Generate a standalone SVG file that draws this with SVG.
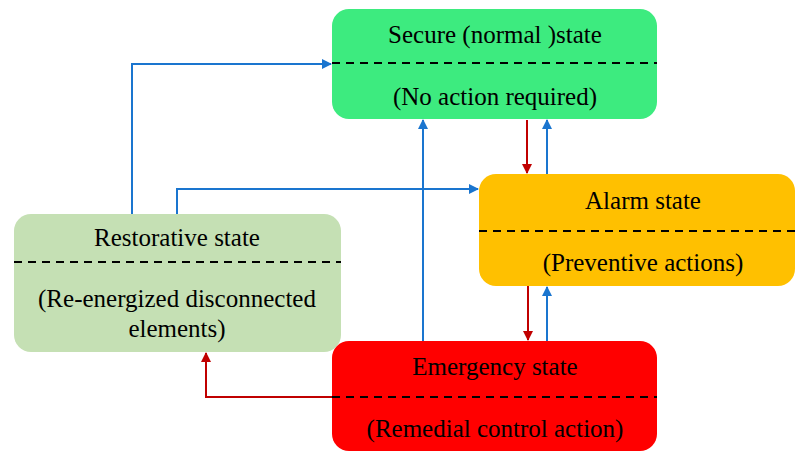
<svg xmlns="http://www.w3.org/2000/svg" width="796" height="451" viewBox="0 0 796 451">
<defs>
<marker id="ab" viewBox="0 0 10 10" refX="9" refY="5" markerWidth="5" markerHeight="5" orient="auto"><path d="M0,0 L10,5 L0,10 z" fill="#1A75CF"/></marker>
<marker id="ar" viewBox="0 0 10 10" refX="9" refY="5" markerWidth="5" markerHeight="5" orient="auto"><path d="M0,0 L10,5 L0,10 z" fill="#C00000"/></marker>
</defs>
<style>
text{font-family:'Liberation Serif','Times New Roman','DejaVu Serif',serif;font-size:25px;fill:#000;text-anchor:middle}
.d{stroke:#000;stroke-width:2;stroke-dasharray:8,6;fill:none}
.b{stroke:#1A75CF;stroke-width:2;fill:none;marker-end:url(#ab)}
.r{stroke:#C00000;stroke-width:2;fill:none;marker-end:url(#ar)}
</style>
<rect width="796" height="451" fill="#fff"/>
<g id="connectors">
<path class="b" d="M132,214 V64 H331"/>
<path class="b" d="M177,214 V189 H478"/>
<path class="b" d="M423,341 V120"/>
<path class="r" d="M527,120 V173"/>
<path class="b" d="M547,174 V120"/>
<path class="r" d="M528,286 V340"/>
<path class="b" d="M547,341 V287"/>
<path class="r" d="M332,397 H206 V353"/>
</g>
<g font-family="Liberation Serif, serif" font-size="25" text-anchor="middle">
<g id="secure">
<rect x="332" y="9" width="325" height="110" rx="17" fill="#3DEB7F"/>
<line class="d" x1="332" y1="63" x2="657" y2="63"/>
<text x="495" y="43">Secure (normal )state</text>
<text x="495" y="105">(No action required)</text>
</g>
<g id="alarm">
<rect x="479" y="174" width="316" height="112" rx="17" fill="#FFC000"/>
<line class="d" x1="479" y1="231" x2="795" y2="231"/>
<text x="643" y="209">Alarm state</text>
<text x="643" y="271">(Preventive actions)</text>
</g>
<g id="restorative">
<rect x="14" y="214" width="327" height="138" rx="17" fill="#C5E0B4"/>
<line class="d" x1="14" y1="262" x2="341" y2="262"/>
<text x="177" y="246">Restorative state</text>
<text x="177" y="307">(Re-energized disconnected</text>
<text x="177" y="337">elements)</text>
</g>
<g id="emergency">
<rect x="332" y="341" width="325" height="110" rx="17" fill="#FF0000"/>
<line class="d" x1="332" y1="397" x2="657" y2="397"/>
<text x="495" y="375">Emergency state</text>
<text x="495" y="437">(Remedial control action)</text>
</g>
</g>
</svg>
